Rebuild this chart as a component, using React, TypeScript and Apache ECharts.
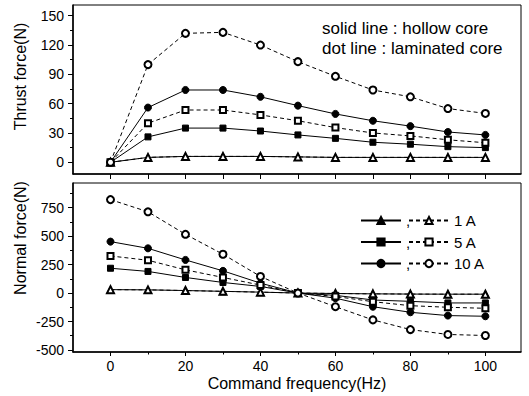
import React, { useEffect, useRef } from "react";
import * as echarts from "echarts";

const FONT = '"Liberation Sans", Arial, Helvetica, sans-serif';

const freq = [0, 10, 20, 30, 40, 50, 60, 70, 80, 90, 100];

// Thrust force (N)
const thrust1AHollow = [0, 5, 6, 6, 6, 5.5, 5, 5, 5, 5, 5];
const thrust1ALam = [0, 5, 6, 6, 6, 5.5, 5, 5, 5, 5, 5];
const thrust5AHollow = [0, 26, 35, 35, 32, 28, 24.5, 20.5, 18.5, 16, 15];
const thrust5ALam = [0, 40, 53.5, 53.5, 48.5, 42.5, 35.5, 30, 27, 23, 20];
const thrust10AHollow = [0, 56, 74, 74, 67, 58, 49.5, 42.5, 37, 31, 28];
const thrust10ALam = [0, 100, 132, 133, 120, 103, 88, 74, 67, 55, 50];

// Normal force (N)
const normal1AHollow = [30, 28, 22, 15, 8, 0, -4, -7, -9, -10, -10];
const normal1ALam = [30, 28, 22, 15, 8, 0, -4, -7, -9, -10, -10];
const normal5AHollow = [218, 190, 137, 93, 58, 0, -20, -61, -73, -87, -87];
const normal5ALam = [326, 288, 204, 137, 70, 0, -30, -76, -111, -125, -134];
const normal10AHollow = [452, 393, 291, 195, 87, 0, -45, -120, -169, -198, -204];
const normal10ALam = [821, 714, 516, 341, 146, 0, -120, -236, -321, -364, -373];

// Ticks
const xTicksTop = [0, 10, 20, 30, 40, 50, 60, 70, 80, 90, 100];
const xMajor = [0, 20, 40, 60, 80, 100];
const xMinor = [10, 30, 50, 70, 90];
const yThrustMajor = [0, 30, 60, 90, 120, 150];
const yThrustMinor = [15, 45, 75, 105, 135];
const yNormalMajor = [-500, -250, 0, 250, 500, 750];
const yNormalMinor = [-375, -125, 125, 375, 625, 875];

const legendLabels: Record<string, string> = { l1: "1 A", l5: "5 A", l10: "10 A" };

const pairs = (ys: number[]) => freq.map((x, i) => [x, ys[i]]);

export default function App() {
  const ref = useRef<HTMLDivElement>(null);
  useEffect(() => {
    document.body.style.margin = "0";
    if (!ref.current) return;
    const chart = echarts.init(ref.current, undefined, { renderer: "svg" });

    const axisLine = { show: true, onZero: false, lineStyle: { color: "#000", width: 1.5 } };
    const noLine = { show: false, onZero: false };
    const labelStyle = { color: "#000", fontSize: 14, fontFamily: FONT };

    const mk = (
      name: string,
      data: number[],
      grid: 0 | 1,
      symbol: string,
      size: number,
      dashed: boolean
    ) => ({
      type: "line",
      name,
      xAxisIndex: grid === 0 ? 0 : 1,
      yAxisIndex: grid === 0 ? 0 : 2,
      data: pairs(data),
      symbol,
      symbolSize: size,
      showSymbol: true,
      lineStyle: { color: "#000", width: 1, type: dashed ? [4, 3] : "solid" },
      itemStyle: { color: "#000", borderColor: "#000", borderWidth: 1 },
      emphasis: { disabled: true },
      z: dashed ? 3 : 2,
    });

    const legendText = { color: "#000", fontSize: 15, lineHeight: 15, fontFamily: FONT };

    const option: any = {
      animation: false,
      backgroundColor: "#fff",
      textStyle: { fontFamily: FONT },
      grid: [
        { left: 73, right: 8, top: 5, height: 169, show: true, borderColor: "#000", borderWidth: 1 },
        { left: 73, right: 8, top: 183, height: 169, show: true, borderColor: "#000", borderWidth: 1 },
      ],
      xAxis: [
        {
          type: "value", gridIndex: 0, position: "bottom", min: -10, max: 109.5,
          axisLine, splitLine: { show: false },
          axisTick: { show: true, length: 5, customValues: xTicksTop, lineStyle: { color: "#000" } },
          axisLabel: { show: false },
        },
        {
          type: "value", gridIndex: 1, position: "bottom", min: -10, max: 109.5,
          axisLine, splitLine: { show: false },
          axisTick: { show: true, length: 4, customValues: xMajor, lineStyle: { color: "#000" } },
          axisLabel: { ...labelStyle, margin: 7, customValues: xMajor },
          name: "Command frequency(Hz)",
          nameLocation: "middle",
          nameGap: 23,
          nameTextStyle: { color: "#000", fontSize: 16, fontFamily: FONT },
        },
        {
          type: "value", gridIndex: 1, position: "bottom", min: -10, max: 109.5,
          axisLine: noLine, splitLine: { show: false },
          axisTick: { show: true, length: 2.5, customValues: xMinor, lineStyle: { color: "#000" } },
          axisLabel: { show: false },
        },
      ],
      yAxis: [
        {
          type: "value", gridIndex: 0, position: "left", min: -12, max: 161,
          axisLine, splitLine: { show: false },
          axisTick: { show: true, length: 5, customValues: yThrustMajor, lineStyle: { color: "#000" } },
          axisLabel: { ...labelStyle, margin: 9, customValues: yThrustMajor },
        },
        {
          type: "value", gridIndex: 0, position: "left", min: -12, max: 161,
          axisLine: noLine, splitLine: { show: false },
          axisTick: { show: true, length: 3, customValues: yThrustMinor, lineStyle: { color: "#000" } },
          axisLabel: { show: false },
        },
        {
          type: "value", gridIndex: 1, position: "left", min: -518, max: 967,
          axisLine, splitLine: { show: false },
          axisTick: { show: true, length: 5, customValues: yNormalMajor, lineStyle: { color: "#000" } },
          axisLabel: { ...labelStyle, margin: 9, customValues: yNormalMajor },
        },
        {
          type: "value", gridIndex: 1, position: "left", min: -518, max: 967,
          axisLine: noLine, splitLine: { show: false },
          axisTick: { show: true, length: 3, customValues: yNormalMinor, lineStyle: { color: "#000" } },
          axisLabel: { show: false },
        },
      ],
      legend: [
        {
          data: ["h1", "h5", "h10"],
          orient: "vertical",
          left: 355,
          top: 208,
          itemWidth: 40,
          itemHeight: 9,
          itemGap: 6.5,
          selectedMode: false,
          inactiveColor: "#000",
          formatter: () => ",",
          textStyle: legendText,
        },
        {
          data: ["l1", "l5", "l10"],
          orient: "vertical",
          left: 403,
          top: 208,
          itemWidth: 40,
          itemHeight: 9,
          itemGap: 6.5,
          selectedMode: false,
          inactiveColor: "#000",
          formatter: (n: string) => legendLabels[n] ?? n,
          textStyle: legendText,
        },
      ],
      graphic: [
        {
          type: "text", x: 20, y: 76.5, rotation: Math.PI / 2,
          style: { text: "Thrust force(N)", fill: "#000", fontSize: 16, fontFamily: FONT, align: "center", verticalAlign: "middle" },
        },
        {
          type: "text", x: 20, y: 238, rotation: Math.PI / 2,
          style: { text: "Normal force(N)", fill: "#000", fontSize: 16, fontFamily: FONT, align: "center", verticalAlign: "middle" },
        },
        {
          type: "text", x: 322, y: 28,
          style: { text: "solid line : hollow core", fill: "#000", fontSize: 17, fontFamily: FONT, align: "left", verticalAlign: "middle" },
        },
        {
          type: "text", x: 322, y: 48,
          style: { text: "dot line : laminated core", fill: "#000", fontSize: 17, fontFamily: FONT, align: "left", verticalAlign: "middle" },
        },
      ],
      series: [
        mk("t-h1", thrust1AHollow, 0, "triangle", 7, false),
        mk("t-h5", thrust5AHollow, 0, "rect", 6, false),
        mk("t-h10", thrust10AHollow, 0, "circle", 7, false),
        mk("t-l1", thrust1ALam, 0, "emptyTriangle", 7, true),
        mk("t-l5", thrust5ALam, 0, "emptyRect", 6, true),
        mk("t-l10", thrust10ALam, 0, "emptyCircle", 7, true),
        mk("h1", normal1AHollow, 1, "triangle", 7, false),
        mk("h5", normal5AHollow, 1, "rect", 6, false),
        mk("h10", normal10AHollow, 1, "circle", 7, false),
        mk("l1", normal1ALam, 1, "emptyTriangle", 7, true),
        mk("l5", normal5ALam, 1, "emptyRect", 6, true),
        mk("l10", normal10ALam, 1, "emptyCircle", 7, true),
      ],
    };

    chart.setOption(option);
    return () => chart.dispose();
  }, []);

  return <div ref={ref} style={{ width: 529, height: 396 }} />;
}
